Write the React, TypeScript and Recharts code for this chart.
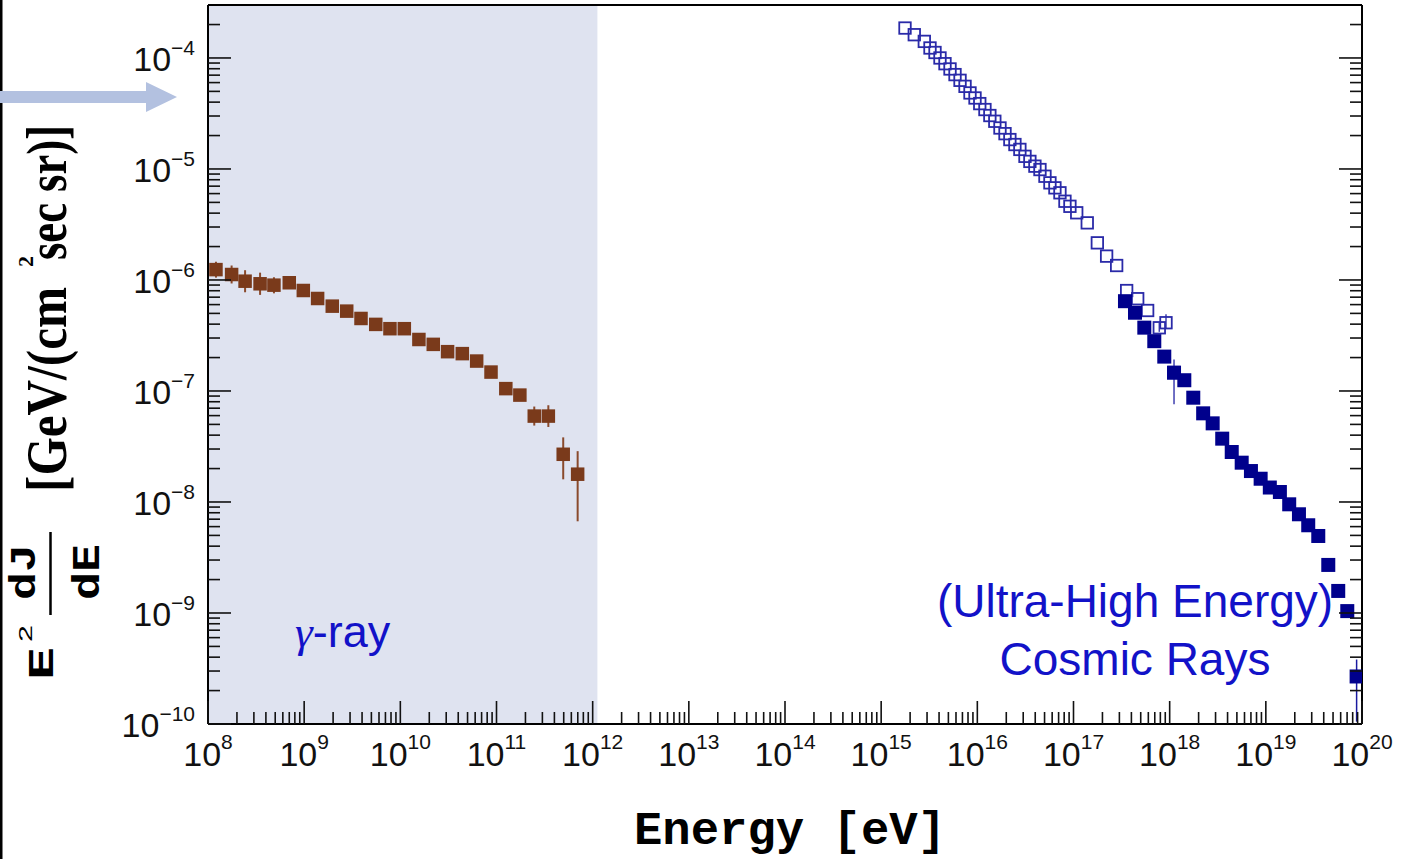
import React from 'react';
import { ScatterChart, Scatter, XAxis, YAxis, ErrorBar, ReferenceArea } from 'recharts';

// ---------- data ----------
const gammaEnergy = [1.21e8, 1.76e8, 2.43e8, 3.48e8, 4.85e8, 7.0e8, 9.8e8, 1.38e9, 1.96e9, 2.77e9, 3.9e9, 5.55e9, 7.8e9, 1.1e10, 1.56e10, 2.2e10, 3.1e10, 4.41e10, 6.22e10, 8.77e10, 1.25e11, 1.75e11, 2.47e11, 3.46e11, 4.94e11, 6.98e11];
const gammaFlux = [1.24e-6, 1.12e-6, 9.75e-7, 9.24e-7, 8.98e-7, 9.44e-7, 8.04e-7, 6.81e-7, 5.81e-7, 5.24e-7, 4.5e-7, 3.98e-7, 3.64e-7, 3.64e-7, 2.91e-7, 2.63e-7, 2.26e-7, 2.17e-7, 1.86e-7, 1.48e-7, 1.05e-7, 9.18e-8, 5.94e-8, 5.94e-8, 2.69e-8, 1.78e-8];
const gammaErrLow = [1.9e-7, 1.9e-7, 2.0e-7, 1.9e-7, 1.4e-7, 1.1e-7, 6.5e-8, 5.5e-8, 4.7e-8, 4.2e-8, 3.6e-8, 3.2e-8, 2.9e-8, 2.9e-8, 2.3e-8, 2.1e-8, 1.8e-8, 1.7e-8, 1.5e-8, 1.2e-8, 8.5e-9, 7.5e-9, 1.06e-8, 1.2e-8, 1.09e-8, 1.11e-8];
const gammaErrHigh = [2.2e-7, 2.3e-7, 2.5e-7, 2.4e-7, 1.6e-7, 1.25e-7, 6.9e-8, 5.9e-8, 5.0e-8, 4.5e-8, 3.9e-8, 3.4e-8, 3.1e-8, 3.1e-8, 2.5e-8, 2.3e-8, 1.9e-8, 1.9e-8, 1.6e-8, 1.3e-8, 9e-9, 8e-9, 1.3e-8, 1.5e-8, 1.13e-8, 1.09e-8];

const crOpenEnergy = [1.77e15, 2.21e15, 2.81e15, 3.22e15, 3.63e15, 4.09e15, 4.61e15, 5.2e15, 5.86e15, 6.61e15, 7.45e15, 8.39e15, 9.46e15, 1.06e16, 1.2e16, 1.35e16, 1.52e16, 1.72e16, 1.94e16, 2.18e16, 2.46e16, 2.77e16, 3.13e16, 3.52e16, 3.97e16, 4.48e16, 5.05e16, 5.69e16, 6.41e16, 7.23e16, 8.15e16, 9.18e16, 1.08e17, 1.39e17, 1.77e17, 2.21e17, 2.81e17, 3.57e17, 4.65e17, 5.9e17, 7.8e17, 9.16e17, 1.11e18];
const crOpenFlux = [1.86e-4, 1.62e-4, 1.41e-4, 1.23e-4, 1.12e-4, 1.0e-4, 8.88e-5, 7.96e-5, 7.08e-5, 6.29e-5, 5.55e-5, 4.84e-5, 4.36e-5, 3.88e-5, 3.43e-5, 3.03e-5, 2.69e-5, 2.34e-5, 2.08e-5, 1.84e-5, 1.66e-5, 1.5e-5, 1.3e-5, 1.17e-5, 1.06e-5, 9.88e-6, 8.6e-6, 7.5e-6, 6.76e-6, 6.1e-6, 5.12e-6, 4.61e-6, 4.03e-6, 3.27e-6, 2.16e-6, 1.64e-6, 1.35e-6, 8.03e-7, 6.78e-7, 5.31e-7, 3.71e-7, 4.12e-7, 1.47e-7];
const crOpenErrLow = [0, 0, 0, 0, 0, 0, 0, 0, 0, 0, 0, 0, 0, 0, 0, 0, 0, 0, 0, 0, 0, 0, 0, 0, 0, 0, 0, 0, 0, 0, 0, 0, 0, 0, 0, 0, 0, 0, 0, 0, 3e-8, 5e-8, 7.1e-8];
const crOpenErrHigh = [0, 0, 0, 0, 0, 0, 0, 0, 0, 0, 0, 0, 0, 0, 0, 0, 0, 0, 0, 0, 0, 0, 0, 0, 0, 0, 0, 0, 0, 0, 0, 0, 0, 0, 0, 0, 0, 0, 0, 0, 4e-8, 8e-8, 4.5e-8];

const crFilledEnergy = [3.43e17, 4.36e17, 5.45e17, 6.92e17, 8.79e17, 1.11e18, 1.42e18, 1.76e18, 2.23e18, 2.8e18, 3.52e18, 4.42e18, 5.61e18, 7.0e18, 8.83e18, 1.1e19, 1.4e19, 1.75e19, 2.21e19, 2.76e19, 3.51e19, 4.46e19, 5.66e19, 7.03e19, 8.79e19];
const crFilledFlux = [6.44e-7, 5.07e-7, 3.72e-7, 2.81e-7, 2.04e-7, 1.46e-7, 1.25e-7, 8.7e-8, 6.29e-8, 5.11e-8, 3.72e-8, 2.82e-8, 2.26e-8, 1.9e-8, 1.62e-8, 1.35e-8, 1.23e-8, 9.53e-9, 7.75e-9, 6.17e-9, 4.94e-9, 2.71e-9, 1.58e-9, 1.04e-9, 2.68e-10];
const crFilledErrLow = [0, 0, 0, 0, 0, 0, 0, 0, 0, 0, 0, 0, 0, 0, 0, 0, 0, 0, 0, 0, 0, 0, 0, 0, 1.63e-10];
const crFilledErrHigh = [0, 0, 0, 0, 0, 0, 0, 0, 0, 0, 0, 0, 0, 0, 0, 0, 0, 0, 0, 0, 0, 0, 0, 0, 1.13e-10];

const xExponents = [8, 9, 10, 11, 12, 13, 14, 15, 16, 17, 18, 19, 20];
const yExponents = [-10, -9, -8, -7, -6, -5, -4];
const minorMultipliers = [2, 3, 4, 5, 6, 7, 8, 9];
const xDomain = [1e8, 1e20];
const yDomain = [1e-10, 3e-4];
const gammaBandEnd = 1.12e12;

const yTitleMain1 = '[GeV/(cm';
const yTitleMain2 = 'sec sr)]';
const xTitle = 'Energy [eV]';
const gammaLabel = '-ray';
const crLabel1 = '(Ultra-High Energy)';
const crLabel2 = 'Cosmic Rays';

// ---------- helpers ----------
function buildLogTicks(exps: number[], max: number) {
  const t: number[] = [];
  exps.forEach((e) => {
    t.push(Number(`1e${e}`));
    minorMultipliers.forEach((m) => {
      const v = Number(`${m}e${e}`);
      if (v < max * 0.999) t.push(v);
    });
  });
  return t.filter((v) => v <= max * 1.0001).sort((a, b) => a - b);
}
const xTicks = buildLogTicks(xExponents, xDomain[1]);
const yTicks = buildLogTicks(yExponents, yDomain[1]);

const gammaData = gammaEnergy.map((e, i) => ({ e, f: gammaFlux[i], err: [gammaErrLow[i], gammaErrHigh[i]] }));
const crOpenData = crOpenEnergy.map((e, i) => ({ e, f: crOpenFlux[i], err: [crOpenErrLow[i], crOpenErrHigh[i]] }));
const crFilledData = crFilledEnergy.map((e, i) => ({ e, f: crFilledFlux[i], err: [crFilledErrLow[i], crFilledErrHigh[i]] }));

const isMajor = (v: number) => {
  const l = Math.log10(v);
  return Math.abs(l - Math.round(l)) < 1e-9;
};
const expOf = (v: number) => Math.round(Math.log10(v));

const MAJOR = 23;
const MINOR = 12;
const TICK_W = 1.6;
const TICK_C = '#111';
const sans = "'Liberation Sans', Arial, Helvetica, sans-serif";
const serif = "'Liberation Serif', 'Times New Roman', serif";
const mono = "'Liberation Mono', 'Courier New', monospace";
const blue = '#1212c8';

const BottomTick = (props: any) => {
  const { x, y, payload } = props;
  const v = payload.value;
  const major = isMajor(v);
  return (
    <g>
      <line x1={x} x2={x} y1={y} y2={y - (major ? MAJOR : MINOR)} stroke={TICK_C} strokeWidth={TICK_W} />
      {major && (
        <text x={x} y={y + 42} textAnchor="middle" fontFamily={sans} fontSize={34} fill="#111">
          10<tspan dy={-17} fontSize={21}>{String(expOf(v))}</tspan>
        </text>
      )}
    </g>
  );
};
const TopTick = (props: any) => {
  const { x, y, payload } = props;
  const major = isMajor(payload.value);
  return <line x1={x} x2={x} y1={y} y2={y + (major ? MAJOR : MINOR)} stroke={TICK_C} strokeWidth={TICK_W} />;
};
const LeftTick = (props: any) => {
  const { x, y, payload } = props;
  const v = payload.value;
  const major = isMajor(v);
  return (
    <g>
      <line x1={x} x2={x + (major ? MAJOR : MINOR)} y1={y} y2={y} stroke={TICK_C} strokeWidth={TICK_W} />
      {major && (
        <text x={x - 13} y={y + 13} textAnchor="end" fontFamily={sans} fontSize={34} fill="#111">
          10<tspan dy={-16} fontSize={21}>{'\u2212' + String(Math.abs(expOf(v)))}</tspan>
        </text>
      )}
    </g>
  );
};
const RightTick = (props: any) => {
  const { x, y, payload } = props;
  const major = isMajor(payload.value);
  return <line x1={x} x2={x - (major ? MAJOR : MINOR)} y1={y} y2={y} stroke={TICK_C} strokeWidth={TICK_W} />;
};

const squareShape = (size: number, fill: string, stroke?: string, sw?: number) => (props: any) => {
  const { cx, cy } = props;
  if (cx == null || cy == null) return <g />;
  return (
    <rect
      x={cx - size / 2}
      y={cy - size / 2}
      width={size}
      height={size}
      fill={fill}
      stroke={stroke || 'none'}
      strokeWidth={sw || 0}
    />
  );
};

export default function App() {
  return (
    <div style={{ position: 'absolute', left: 0, top: 0, width: 1402, height: 859, background: '#fff', overflow: 'hidden' }}>
      <ScatterChart width={1402} height={859} margin={{ top: 0, right: 30, bottom: 75, left: 0 }}>
        <XAxis
          xAxisId="b"
          dataKey="e"
          type="number"
          scale="log"
          domain={xDomain}
          allowDataOverflow
          ticks={xTicks}
          interval={0}
          tickSize={0}
          tickMargin={0}
          tickLine={false}
          tick={BottomTick}
          axisLine={{ stroke: '#000', strokeWidth: 2 }}
          height={60}
        />
        <XAxis
          xAxisId="t"
          orientation="top"
          type="number"
          scale="log"
          domain={xDomain}
          allowDataOverflow
          ticks={xTicks}
          interval={0}
          tickSize={0}
          tickMargin={0}
          tickLine={false}
          tick={TopTick}
          axisLine={{ stroke: '#000', strokeWidth: 2 }}
          height={5}
        />
        <YAxis
          yAxisId="l"
          dataKey="f"
          type="number"
          scale="log"
          domain={yDomain}
          allowDataOverflow
          ticks={yTicks}
          interval={0}
          tickSize={0}
          tickMargin={0}
          tickLine={false}
          tick={LeftTick}
          axisLine={{ stroke: '#000', strokeWidth: 2 }}
          width={208}
        />
        <YAxis
          yAxisId="r"
          orientation="right"
          type="number"
          scale="log"
          domain={yDomain}
          allowDataOverflow
          ticks={yTicks}
          interval={0}
          tickSize={0}
          tickMargin={0}
          tickLine={false}
          tick={RightTick}
          axisLine={{ stroke: '#000', strokeWidth: 2 }}
          width={10}
        />
        <ReferenceArea
          xAxisId="b"
          yAxisId="l"
          x1={xDomain[0]}
          x2={gammaBandEnd}
          fill="#dfe3f0"
          fillOpacity={1}
          stroke="none"
        />
        <Scatter
          name="gamma"
          data={gammaData}
          xAxisId="b"
          yAxisId="l"
          dataKey="f"
          isAnimationActive={false}
          shape={squareShape(13.5, '#7a3a1b')}
        >
          <ErrorBar dataKey="err" direction="y" width={0} stroke="#8a4a2c" strokeWidth={2} />
        </Scatter>
        <Scatter
          name="crOpen"
          data={crOpenData}
          xAxisId="b"
          yAxisId="l"
          dataKey="f"
          isAnimationActive={false}
          shape={squareShape(11.5, 'none', '#2a2aa8', 1.8)}
        >
          <ErrorBar dataKey="err" direction="y" width={0} stroke="#4040b0" strokeWidth={1.5} />
        </Scatter>
        <Scatter
          name="crFilled"
          data={crFilledData}
          xAxisId="b"
          yAxisId="l"
          dataKey="f"
          isAnimationActive={false}
          shape={squareShape(14, '#00008c')}
        >
          <ErrorBar dataKey="err" direction="y" width={0} stroke="#1a1aa0" strokeWidth={1.5} />
        </Scatter>
      </ScatterChart>

      <svg width={1402} height={859} style={{ position: 'absolute', left: 0, top: 0, pointerEvents: 'none' }}>
        <rect x={0} y={0} width={2.5} height={859} fill="#000" />
        <polygon points="0,91 146,91 146,82 177,97 146,112 146,103 0,103" fill="#b3c1e0" />

        <g transform="translate(0,859) rotate(-90)" fill="#000">
          <text x={179} y={53} fontFamily={mono} fontWeight="bold" fontSize={36} textLength={33} lengthAdjust="spacingAndGlyphs">E</text>
          <text x={217} y={32} fontFamily={sans} fontSize={19} textLength={17} lengthAdjust="spacingAndGlyphs">2</text>
          <text x={259} y={35} fontFamily={mono} fontWeight="bold" fontSize={36} textLength={56} lengthAdjust="spacingAndGlyphs">dJ</text>
          <line x1={244} x2={327} y1={50.5} y2={50.5} stroke="#000" strokeWidth={2.5} />
          <text x={259} y={99} fontFamily={mono} fontWeight="bold" fontSize={38} textLength={56} lengthAdjust="spacingAndGlyphs">dE</text>
          <text x={367} y={66} fontFamily={serif} fontWeight="bold" fontSize={56} textLength={205} lengthAdjust="spacingAndGlyphs">{yTitleMain1}</text>
          <text x={592} y={33} fontFamily={serif} fontWeight="bold" fontSize={22}>2</text>
          <text x={599} y={66} fontFamily={serif} fontWeight="bold" fontSize={56} textLength={135} lengthAdjust="spacingAndGlyphs">{yTitleMain2}</text>
        </g>

        <text x={790} y={844} textAnchor="middle" fontFamily={mono} fontWeight="bold" fontSize={47} textLength={312} lengthAdjust="spacingAndGlyphs" fill="#000">{xTitle}</text>

        <text x={295} y={647} fontFamily={sans} fontSize={45} fill={blue}>
          <tspan fontFamily={serif} fontStyle="italic">{'\u03b3'}</tspan>{gammaLabel}
        </text>
        <text x={1135} y={617} textAnchor="middle" fontFamily={sans} fontSize={46} fill={blue}>{crLabel1}</text>
        <text x={1135} y={675} textAnchor="middle" fontFamily={sans} fontSize={46} fill={blue}>{crLabel2}</text>
      </svg>
    </div>
  );
}
